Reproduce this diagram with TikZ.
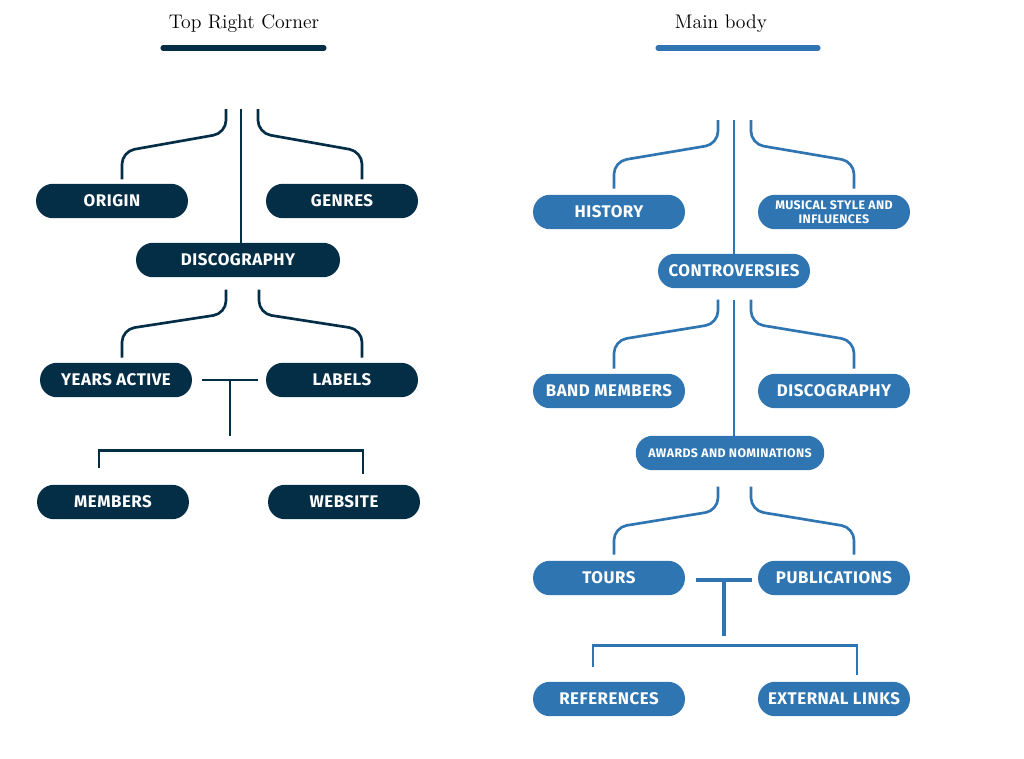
\documentclass[tikz,border=0pt]{standalone}
\usepackage{fontspec}
\newfontfamily\pillfont{Fira Sans}[LetterSpace=3]
\usetikzlibrary{calc}
\definecolor{navy}{RGB}{4,46,70}
\definecolor{steel}{RGB}{46,117,178}

\begin{document}
\begin{tikzpicture}[
  x=0.025cm, y=-0.025cm,
  pill/.style={rectangle, rounded corners=12pt, fill=#1, text=white, minimum width=108pt,
    minimum height=24.5pt, inner sep=2pt, align=center,
    font=\pillfont\bfseries\fontsize{12}{12}\selectfont},
  smalltext/.style={font=\pillfont\bfseries\fontsize{8.8}{10}\selectfont},
  link/.style={draw=#1, line width=1.9pt},
  fork/.style={link=#1, rounded corners=9pt},
  bar/.style={draw=#1, line width=3.6pt, line cap=round},
  title/.style={font=\fontsize{14}{16}\selectfont}
]
\useasboundingbox (0,0) rectangle (1024,758);

% left column
\node[title] (ltitle) at (244,24) {Top Right Corner};
\draw[bar=navy] (163,48) -- (324,48);

\node[pill=navy] (origin) at (112,201) {ORIGIN};
\node[pill=navy] (genres) at (342,201) {GENRES};
\node[pill=navy, minimum width=145pt] (ldisco) at (238,260) {DISCOGRAPHY};
\node[pill=navy] (years) at (116,380) {YEARS ACTIVE};
\node[pill=navy] (labels) at (342,380) {LABELS};
\node[pill=navy] (members) at (113,502) {MEMBERS};
\node[pill=navy] (website) at (344,502) {WEBSITE};

\coordinate (lhub) at (241,109);
\draw[link=navy] (lhub) -- (lhub |- ldisco.north);
\draw[fork=navy] ($(lhub)+(-15,0)$) -- ++(0,24) -- ($(origin.north)+(10,-32)$) -- ($(origin.north)+(10,-4)$);
\draw[fork=navy] ($(lhub)+(17,0)$) -- ++(0,24) -- ($(genres.north)+(20,-32)$) -- ($(genres.north)+(20,-4)$);

\coordinate (lhub2) at ($(ldisco.south)+(0,12)$);
\draw[fork=navy] ($(lhub2)+(-12,0)$) -- ++(0,24) -- ($(years.north)+(6,-33)$) -- ($(years.north)+(6,-5)$);
\draw[fork=navy] ($(lhub2)+(21,0)$) -- ++(0,24) -- ($(labels.north)+(20,-33)$) -- ($(labels.north)+(20,-5)$);

\coordinate (lta) at ($(years.east)+(10,0)$);
\coordinate (ltb) at ($(labels.west)+(-8,0)$);
\draw[link=navy] (lta) -- (ltb);
\draw[link=navy] ($(lta)!0.5!(ltb)$) -- ++(0,56);
\draw[link=navy] ($(members.north)+(-14,-17)$) |- ($(website.north)+(19,-34)$) -- ($(website.north)+(19,-11)$);

% right column
\node[title] (rtitle) at (721,24) {Main body};
\draw[bar=steel] (658,48) -- (818,48);

\node[pill=steel] (history) at (609,212) {HISTORY};
\node[pill=steel, smalltext] (style) at (834,212) {MUSICAL STYLE AND\\INFLUENCES};
\node[pill=steel] (contro) at (734,271) {CONTROVERSIES};
\node[pill=steel] (band) at (609,391) {BAND MEMBERS};
\node[pill=steel] (rdisco) at (834,391) {DISCOGRAPHY};
\node[pill=steel, smalltext, minimum width=134pt] (awards) at (730,453) {AWARDS AND NOMINATIONS};
\node[pill=steel] (tours) at (609,578) {TOURS};
\node[pill=steel] (pubs) at (834,578) {PUBLICATIONS};
\node[pill=steel] (refs) at (609,699) {REFERENCES};
\node[pill=steel] (links) at (834,699) {EXTERNAL LINKS};

\coordinate (rhub) at (734,120);
\draw[link=steel] (rhub) -- (contro.north);
\draw[fork=steel] ($(rhub)+(-16,0)$) -- ++(0,24) -- ($(history.north)+(5,-33)$) -- ($(history.north)+(5,-6)$);
\draw[fork=steel] ($(rhub)+(17,0)$) -- ++(0,24) -- ($(style.north)+(20,-33)$) -- ($(style.north)+(20,-6)$);

\coordinate (rhub2) at ($(contro.south)+(0,11)$);
\draw[link=steel] (rhub2) -- (rhub2 |- awards.north);
\draw[fork=steel] ($(rhub2)+(-16,0)$) -- ++(0,24) -- ($(band.north)+(5,-33)$) -- ($(band.north)+(5,-5)$);
\draw[fork=steel] ($(rhub2)+(17,0)$) -- ++(0,24) -- ($(rdisco.north)+(20,-33)$) -- ($(rdisco.north)+(20,-5)$);

\coordinate (rhub3) at ($(awards.south)+(4,16)$);
\draw[fork=steel] ($(rhub3)+(-16,0)$) -- ++(0,24) -- ($(tours.north)+(5,-33)$) -- ($(tours.north)+(5,-6)$);
\draw[fork=steel] ($(rhub3)+(17,0)$) -- ++(0,24) -- ($(pubs.north)+(20,-33)$) -- ($(pubs.north)+(20,-6)$);

\coordinate (rta) at ($(tours.east)+(11,2)$);
\coordinate (rtb) at ($(pubs.west)+(-6,2)$);
\draw[link=steel, line width=2.8pt] (rta) -- (rtb);
\draw[link=steel, line width=2.8pt] ($(rta)!0.5!(rtb)$) -- ++(0,56);
\draw[link=steel] ($(refs.north)+(-16,-15)$) |- ($(links.north)+(23,-36)$) -- ($(links.north)+(23,-7)$);
\end{tikzpicture}
\end{document}
